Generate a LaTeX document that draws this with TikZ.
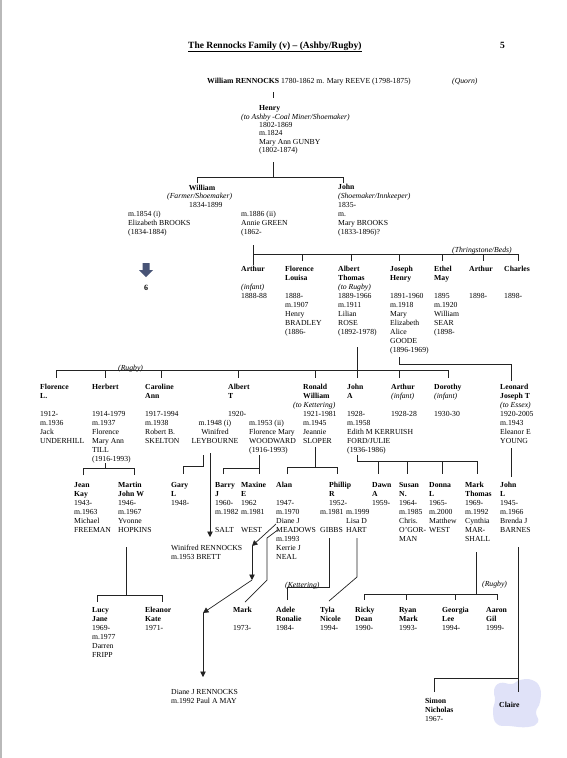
\documentclass[tikz,border=0pt]{standalone}
\usepackage{fontspec}
\setmainfont{Liberation Serif}
\usetikzlibrary{arrows.meta}
\definecolor{lnk}{RGB}{35,35,35}
\definecolor{barrow}{RGB}{72,84,118}
\definecolor{blob}{RGB}{224,226,248}
\tikzset{
 txt/.style={anchor=base west, inner sep=0pt, font=\fontsize{7.7}{9}\selectfont},
 txtc/.style={anchor=base, inner sep=0pt, font=\fontsize{7.7}{9}\selectfont},
 ln/.style={draw=lnk, line width=0.7pt},
 arr/.style={ln, -{Triangle[length=5.5pt,width=5.5pt]}},
}
\newcommand\blk[5]{\foreach \tx [count=\i] in {#5} {\node[txt] (#1-\i) at (#2,{#3+2.5+#4*(\i-1)}) {\tx};}}
\newcommand\one[4]{\node[txt] (#1) at (#2,{#3+2.5}) {#4};}
\begin{document}
\begin{tikzpicture}[x=1pt,y=-1pt]
\useasboundingbox (0,0) rectangle (567,758);
\fill[white] (0,0) rectangle (567,758);
\fill[gray!55] (0,0) rectangle (2,758);
% title
\node[anchor=base west, inner sep=0pt, font=\fontsize{9.5}{10}\selectfont\bfseries] (title) at (188,48) {\underline{The Rennocks Family (v) -- (Ashby/Rugby)}};
\node[anchor=base west, inner sep=0pt, font=\fontsize{9.5}{10}\selectfont\bfseries] (pg) at (500,48) {5};
% generation 0
\one{wr}{207}{81}{\textbf{William RENNOCKS} 1780-1862 m. Mary REEVE (1798-1875)}
\one{quorn}{452}{81}{\textit{(Quorn)}}
% Henry
\one{henry}{259}{108}{\textbf{Henry}}
\one{henryocc}{241}{116.5}{\textit{(to Ashby -Coal Miner/Shoemaker)}}
\blk{hen}{259}{124.5}{8.5}{1802-1869,m.1824,Mary Ann GUNBY,{(1802-1874)}}
% William & John
\node[txtc] (will) at (202,190.5) {\textbf{William}};
\one{willocc}{167}{196}{\textit{(Farmer/Shoemaker)}}
\one{willd}{189}{205}{1834-1899}
\blk{wa}{128}{214}{9}{m.1854 (i),Elizabeth BROOKS,{(1834-1884)}}
\blk{wb}{241}{214}{9}{m.1886 (ii),Annie GREEN,{(1862-}}
\blk{john}{338}{187}{9}{\textbf{John},\textit{(Shoemaker/Innkeeper)},1835-,m.,Mary BROOKS,{(1833-1896)?}}
% page-6 arrow
\fill[barrow] (142.5,263) -- (149.5,263) -- (149.5,270) -- (153,270) -- (146,277) -- (139,270) -- (142.5,270) -- cycle;
\node[anchor=base, inner sep=0pt, font=\fontsize{8}{9}\selectfont\bfseries] (six) at (146,290) {6};
% children of William & Annie
\one{thr}{452}{250}{\textit{(Thringstone/Beds)}}
\blk{art}{241}{269}{9}{\textbf{Arthur},{},\textit{(infant)},1888-88}
\blk{flo}{285}{269}{9}{\textbf{Florence},\textbf{Louisa},{},1888-,m.1907,Henry,BRADLEY,{(1886-}}
\blk{alb}{338}{269}{9}{\textbf{Albert},\textbf{Thomas},\textit{(to Rugby)},1889-1966,m.1911,Lilian,ROSE,{(1892-1978)}}
\blk{jos}{390}{269}{9}{\textbf{Joseph},\textbf{Henry},{},1891-1960,m.1918,Mary,Elizabeth,Alice,GOODE,{(1896-1969)}}
\blk{eth}{434}{269}{9}{\textbf{Ethel},\textbf{May},{},1895,m.1920,William,SEAR,{(1898-}}
\blk{arb}{469}{269}{9}{\textbf{Arthur},{},{},1898-}
\blk{cha}{504}{269}{9}{\textbf{Charles},{},{},1898-}
% children of Albert Thomas etc
\one{rug1}{118}{368}{\textit{(Rugby)}}
\blk{fll}{40}{387}{9}{\textbf{Florence},\textbf{L.},{},1912-,m.1936,Jack,UNDERHILL}
\blk{her}{92}{387}{9}{\textbf{Herbert},{},{},1914-1979,m.1937,Florence,Mary Ann,TILL,{(1916-1993)}}
\blk{car}{145}{387}{9}{\textbf{Caroline},\textbf{Ann},{},1917-1994,m.1938,Robert B.,SKELTON}
\blk{abt}{228}{387}{9}{\textbf{Albert},\textbf{T},{},1920-}
\node[txtc] (ley1) at (215,425.5) {m.1948 (i)};
\node[txtc] (ley2) at (215,434.5) {Winifred};
\node[txtc] (ley3) at (215,443.5) {LEYBOURNE};
\blk{woo}{249}{423}{9}{m.1953 (ii),Florence Mary,WOODWARD,{(1916-1993)}}
\blk{ron}{303}{387}{9}{\textbf{Ronald},\textbf{William}}
\one{ronk}{293}{405}{\textit{(to Kettering)}}
\blk{ronb}{303}{414}{9}{1921-1981,m.1945,Jeannie,SLOPER}
\blk{joa}{347}{387}{9}{\textbf{John},\textbf{A},{},1928-,m.1958,Edith M KERRUISH,FORD/JULIE,{(1936-1986)}}
\blk{arc}{391}{387}{9}{\textbf{Arthur},\textit{(infant)},{},1928-28}
\blk{dor}{434}{387}{9}{\textbf{Dorothy},\textit{(infant)},{},1930-30}
\blk{leo}{500}{387}{9}{\textbf{Leonard},\textbf{Joseph T},\textit{(to Essex)},1920-2005,m.1943,Eleanor E,YOUNG}
% grandchildren
\blk{jea}{74}{485}{9}{\textbf{Jean},\textbf{Kay},1943-,m.1963,Michael,FREEMAN}
\blk{mar}{118}{485}{9}{\textbf{Martin},\textbf{John W},1946-,m.1967,Yvonne,HOPKINS}
\blk{gar}{171}{485}{9}{\textbf{Gary},\textbf{L},1948-}
\blk{bar}{215}{485}{9}{\textbf{Barry},\textbf{J},1960-,m.1982,{},SALT}
\blk{max}{241}{485}{9}{\textbf{Maxine},\textbf{E},1962,m.1981,{},WEST}
\blk{ala}{276}{485}{9}{\textbf{Alan},{},1947-,m.1970,Diane J,MEADOWS,m.1993,Kerrie J,NEAL}
\blk{phi}{329}{485}{9}{\textbf{Phillip},\textbf{R},1952-}
\blk{phg}{320}{512}{9}{m.1981,{},GIBBS}
\blk{phh}{346}{512}{9}{m.1999,Lisa D,HART}
\blk{daw}{372}{485}{9}{\textbf{Dawn},\textbf{A},1959-}
\blk{sus}{399}{485}{9}{\textbf{Susan},\textbf{N.},1964-,m.1985,Chris.,O'GOR-,MAN}
\blk{don}{429}{485}{9}{\textbf{Donna},\textbf{L},1965-,m.2000,Matthew,WEST}
\blk{mat}{465}{485}{9}{\textbf{Mark},\textbf{Thomas},1969-,m.1992,Cynthia,MAR-,SHALL}
\blk{jol}{500}{485}{9}{\textbf{John},\textbf{L},1945-,m.1966,Brenda J,BARNES}
\blk{wir}{171}{548}{9}{Winifred RENNOCKS,m.1953 BRETT}
% great-grandchildren
\one{ket}{285}{585}{\textit{(Kettering)}}
\one{rug2}{482}{584}{\textit{(Rugby)}}
\blk{luc}{92}{610}{9}{\textbf{Lucy},\textbf{Jane},1969-,m.1977,Darren,FRIPP}
\blk{ele}{145}{610}{9}{\textbf{Eleanor},\textbf{Kate},1971-}
\blk{mrk}{233}{610}{9}{\textbf{Mark},{},1973-}
\blk{ade}{276}{610}{9}{\textbf{Adele},\textbf{Ronalie},1984-}
\blk{tyl}{320}{610}{9}{\textbf{Tyla},\textbf{Nicole},1994-}
\blk{ric}{355}{610}{9}{\textbf{Ricky},\textbf{Dean},1990-}
\blk{rya}{399}{610}{9}{\textbf{Ryan},\textbf{Mark},1993-}
\blk{geo}{442}{610}{9}{\textbf{Georgia},\textbf{Lee},1994-}
\blk{aar}{486}{610}{9}{\textbf{Aaron},\textbf{Gil},1999-}
\blk{dia}{171}{692}{9}{Diane J RENNOCKS,m.1992 Paul A MAY}
\blk{sim}{425}{701}{9}{\textbf{Simon},\textbf{Nicholas},1967-}
\fill[blob] plot[smooth cycle, tension=0.8] coordinates {(494,690) (500,683) (512,684) (520,680) (532,680) (540,688) (540,702) (536,712) (538,722) (528,727) (510,726) (497,724) (493,712) (495,700)};
\one{cla}{499}{705}{\textbf{Claire}}
% connectors
\draw[ln] (273,92) -- (273,98);
\draw[ln] (273,162) -- (273,177);
\draw[ln] (197,183) -- (197,177) -- (343,177) -- (343,183);
\draw[ln] (253,245) -- (253,265);
\draw[ln] (253,254) -- (518,254);
\foreach \x in {302,351,399,442,483,518} \draw[ln] (\x,254) -- (\x,261);
\draw[ln] (357,347) -- (357,378);
\draw[ln] (56,370) -- (448,370);
\foreach \x in {56,105,161,238,315,399,448} \draw[ln] (\x,370) -- (\x,378);
\draw[ln] (399,357) -- (399,364) -- (511,364) -- (511,381);
\draw[ln] (105,463) -- (105,468);
\draw[ln] (83,475) -- (83,468) -- (134,468) -- (134,475);
\draw[ln] (203,455) -- (203,466) -- (183,466) -- (183,474);
\draw[arr] (210,453) -- (210,537);
\draw[ln] (259,455) -- (259,474);
\draw[ln] (223,474) -- (223,468) -- (259,468);
\draw[ln] (315,447) -- (315,467);
\draw[ln] (287,474) -- (287,467) -- (337,467) -- (337,474);
\draw[ln] (357,455) -- (357,461) -- (477,461);
\foreach \x in {378,407,442,477} \draw[ln] (\x,461) -- (\x,474);
\draw[ln] (511,448) -- (511,477);
\draw[ln] (126,547) -- (126,595);
\draw[ln] (97,602) -- (97,595) -- (162,595) -- (162,602);
\draw[ln] (279,529) -- (267,538) -- (267,580) -- (245,602);
\draw[arr] (276,524) -- (252,546);
\draw[arr] (252,546) -- (252,580);
\draw[arr] (252,580) -- (203,613);
\draw[arr] (203,613) -- (203,677);
\draw[ln] (329,538) -- (329,587) -- (287,587) -- (287,600);
\draw[ln] (357,538) -- (357,577) -- (329,601);
\draw[ln] (476,552) -- (476,594);
\draw[ln] (364,594) -- (497,594);
\foreach \x in {364,406,455,497} \draw[ln] (\x,594) -- (\x,600);
\draw[ln] (518,547) -- (518,692);
\draw[ln] (434,692) -- (434,678) -- (518,678);
\end{tikzpicture}
\end{document}
